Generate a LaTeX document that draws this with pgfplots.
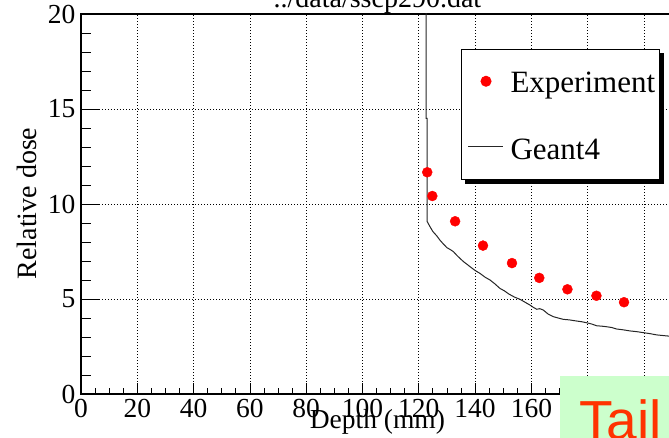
\documentclass[border=0pt]{standalone}
\usepackage{fontspec}
\setmainfont{Liberation Serif}
\newfontfamily\tailfont{Liberation Sans}
\usepackage{pgfplots}
\pgfplotsset{compat=1.18}
\definecolor{tailgreen}{RGB}{204,255,204}
\definecolor{tailred}{RGB}{255,51,0}
\begin{document}
\begin{tikzpicture}
\path[use as bounding box, clip] (-81pt,-44pt) rectangle (588pt,394pt);
\begin{axis}[
  at={(0pt,0pt)}, anchor=south west,
  width=591.15pt, height=380pt, scale only axis,
  xmin=0, xmax=210, ymin=0, ymax=20,
  xtick={0,20,...,200}, ytick={0,5,...,20},
  minor x tick num=3, minor y tick num=4,
  tick align=inside, tick pos=left,
  x tick style={/pgfplots/major tick length=11pt,/pgfplots/minor tick length=6pt, line width=0.8pt, black},
  y tick style={/pgfplots/major tick length=19pt,/pgfplots/minor tick length=10pt, line width=0.8pt, black},
  grid=major,
  major grid style={black, line width=0.8pt, dash pattern=on 0.8pt off 2.2pt},
  axis line style={line width=1.2pt},
  /pgf/number format/assume math mode=true,
  tick label style={font=\fontsize{27.5}{27.5}\selectfont},
  xticklabel style={yshift=-2pt},
  yticklabel style={xshift=-2pt},
  xlabel={Depth (mm)}, ylabel={Relative dose},
  every axis x label/.style={at={(axis cs:105.3,0)}, anchor=base, yshift=-35pt, font=\fontsize{27.5}{27.5}\selectfont},
  every axis y label/.style={at={(axis cs:0,10.03)}, rotate=90, anchor=base, yshift=44pt, font=\fontsize{28}{28}\selectfont},
  title={../data/sscp290.dat},
  every axis title/.style={at={(axis cs:105.3,20)}, anchor=base, yshift=6pt, font=\fontsize{28}{28}\selectfont},
  legend style={name=leg, at={(axis cs:135,18.16)}, anchor=north west, draw=black, line width=1pt, fill=white,
    inner xsep=4pt, inner ysep=20pt, row sep=43pt,
    nodes={inner sep=0pt, text height=22pt, text depth=0pt},
    font=\fontsize{31}{31}\selectfont,
    /tikz/every odd column/.style={column sep=6pt}},
  legend cell align=left,
]
\addplot[only marks, mark=*, mark size=5pt, color=red,
  legend image code/.code={\path (0pt,-9pt) (38pt,12pt); \fill[red] (20pt,0.7pt) circle[radius=5pt];}]
  coordinates {
  (123.0,11.67) (124.8,10.42) (132.9,9.09) (142.8,7.81) (153.1,6.89)
  (162.8,6.11) (172.8,5.51) (183.1,5.17) (192.9,4.83)
};
\addlegendentry{Experiment}
\addplot[color=black!85, line width=1pt,
  legend image code/.code={\path (0pt,-9pt) (38pt,12pt); \draw[black!85, line width=1pt] (2pt,2.2pt) -- (37pt,2.2pt);}]
  coordinates {
  (122.6,60) (122.6,14.5) (123.0,14.5) (123.0,9.07) (124.0,8.80) (125.0,8.55)
  (126.4,8.32) (127.5,8.10) (128.7,7.90) (130.0,7.70) (131.2,7.60) (132.3,7.49)
  (133.5,7.30) (134.6,7.14) (136.0,6.95) (137.2,6.82) (138.2,6.70) (140.0,6.50)
  (141.7,6.35) (143.5,6.15) (145.3,6.00) (147.0,5.80) (148.8,5.56) (150.5,5.42)
  (152.0,5.26) (154.0,5.10) (156.0,4.98) (157.5,4.85) (159.5,4.68) (160.8,4.55)
  (161.9,4.46) (163.0,4.49) (164.2,4.42) (166.0,4.20) (167.8,4.07) (169.5,4.00)
  (171.3,3.93) (173.5,3.90) (176.1,3.84) (178.0,3.80) (179.6,3.75) (181.5,3.68)
  (183.2,3.59) (185.0,3.57) (186.7,3.54) (188.5,3.50) (190.3,3.42) (192.5,3.38)
  (195.0,3.32) (197.5,3.28) (199.7,3.23) (202.0,3.18) (204.5,3.11) (206.5,3.08)
  (208.6,3.05) (210.0,3.03)
};
\addlegendentry{Geant4}
\end{axis}
\fill[black] ([xshift=0.5pt,yshift=-4pt]leg.north east) rectangle ([xshift=4.5pt,yshift=-4.5pt]leg.south east);
\fill[black] ([xshift=4pt,yshift=-0.5pt]leg.south west) rectangle ([xshift=4.5pt,yshift=-4.5pt]leg.south east);
\fill[tailgreen] (479pt,18pt) rectangle (600pt,-60pt);
\node[anchor=base west, inner sep=0pt, text=tailred, font=\tailfont\fontsize{55}{55}\selectfont] at (498pt,-45.5pt) {Tail};
\end{tikzpicture}
\end{document}
